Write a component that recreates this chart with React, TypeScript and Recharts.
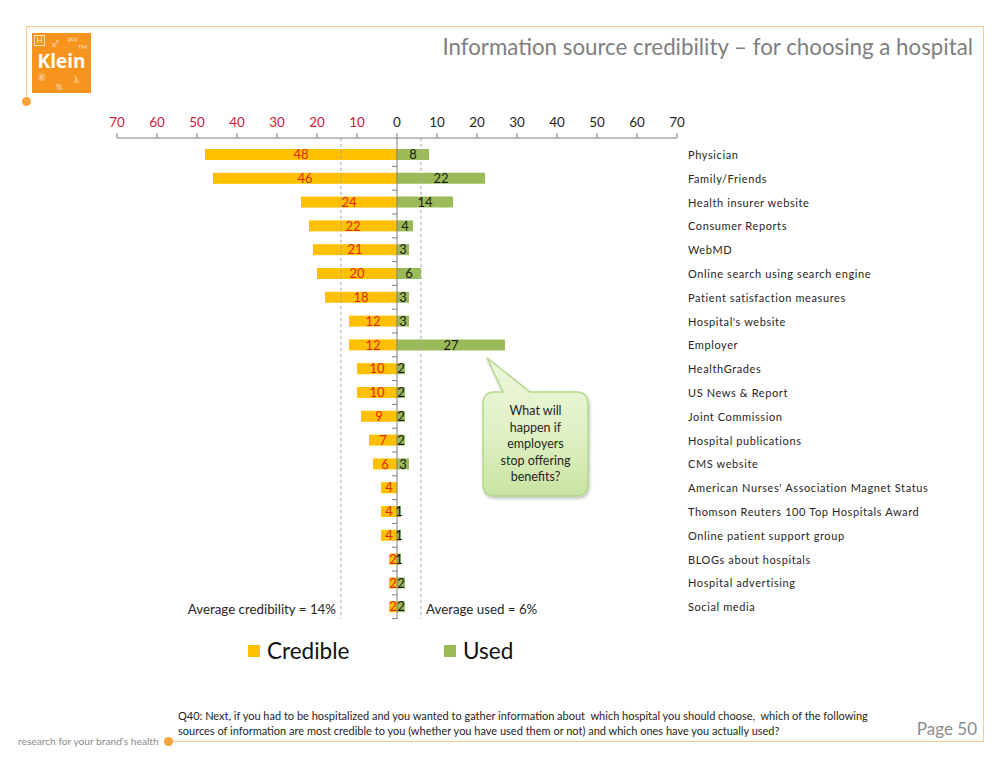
import React from 'react';
import { BarChart, Bar, XAxis, YAxis, ReferenceLine, LabelList } from 'recharts';

const CATEGORIES = [
  'Physician',
  'Family/Friends',
  'Health insurer website',
  'Consumer Reports',
  'WebMD',
  'Online search using search engine',
  'Patient satisfaction measures',
  "Hospital's website",
  'Employer',
  'HealthGrades',
  'US News & Report',
  'Joint Commission',
  'Hospital publications',
  'CMS website',
  "American Nurses' Association Magnet Status",
  'Thomson Reuters 100 Top Hospitals Award',
  'Online patient support group',
  'BLOGs about hospitals',
  'Hospital advertising',
  'Social media',
];
const CREDIBLE = [48, 46, 24, 22, 21, 20, 18, 12, 12, 10, 10, 9, 7, 6, 4, 4, 4, 2, 2, 2];
const USED = [8, 22, 14, 4, 3, 6, 3, 3, 27, 2, 2, 2, 2, 3, 0, 1, 1, 1, 2, 2];
const X_TICKS = [-70, -60, -50, -40, -30, -20, -10, 0, 10, 20, 30, 40, 50, 60, 70];
const AVG_CREDIBLE = 14;
const AVG_USED = 6;
const SERIES = [
  { key: 'credible', name: 'Credible', color: '#FFC000', legendX: 248 },
  { key: 'used', name: 'Used', color: '#9BBB59', legendX: 444 },
];
const CALLOUT_LINES = ['What will', 'happen if', 'employers', 'stop offering', 'benefits?'];
const QUESTION_LINES = [
  'Q40: Next, if you had to be hospitalized and you wanted to gather information about  which hospital you should choose,  which of the following',
  'sources of information are most credible to you (whether you have used them or not) and which ones have you actually used?',
];

const data = CATEGORIES.map((name, i) => ({
  name,
  credible: -CREDIBLE[i],
  used: USED[i],
  credibleLabel: CREDIBLE[i],
  usedLabel: USED[i],
}));

const FONT = 'Lato, "Open Sans", sans-serif';
const ORANGE = '#F7941E';
const FRAME = '#F9CB8F';

// plot geometry (used for the small tick marks on the zero axis)
const PLOT_TOP = 138;
const PLOT_BOTTOM = 619;
const BAND_PAD = 5;
const ROW = (PLOT_BOTTOM - PLOT_TOP - BAND_PAD) / CATEGORIES.length;

const TopTick = ({ x, y, payload }: any) => (
  <text
    x={x}
    y={y}
    textAnchor="middle"
    fontSize={13.5}
    fontFamily={FONT}
    fill={payload.value < 0 ? '#D0213A' : '#262626'}
  >
    {Math.abs(payload.value)}
  </text>
);

const CategoryTick = ({ x, y, payload }: any) => (
  <text x={x} y={y} dy={4} fontSize={11} letterSpacing={0.6} fontFamily={FONT} fill="#262626" textAnchor="start">
    {payload.value}
  </text>
);

const CredibleShape = (props: any) => {
  const { x, y, width, height, fill } = props;
  const left = Math.min(x, x + width);
  const w = Math.abs(width);
  const x0 = left + w;
  const boundary = y + height / 2 + ROW / 2;
  return (
    <g>
      <rect x={left} y={y} width={w} height={height} fill={fill} />
      <line x1={x0 - 5} x2={x0} y1={boundary} y2={boundary} stroke="#7f7f7f" strokeWidth={1} />
    </g>
  );
};

const abs = (v: any) => (Number(v) === 0 ? '' : Math.abs(Number(v)));

function Logo() {
  const sym = (text: string, left: number, top: number, size: number) => (
    <div style={{ position: 'absolute', left, top, fontSize: size, color: 'rgba(255,255,255,0.75)', lineHeight: 1 }}>
      {text}
    </div>
  );
  return (
    <div style={{ position: 'absolute', left: 32, top: 33, width: 59, height: 60, background: ORANGE }}>
      <div style={{ position: 'absolute', left: 2, top: 2, width: 9, height: 9, border: '1px solid rgba(255,255,255,0.75)', fontSize: 8, color: 'rgba(255,255,255,0.8)', textAlign: 'center', lineHeight: '9px' }}>H</div>
      {sym('x²', 20, 7, 8)}
      {sym('p(x)', 36, 3, 6)}
      {sym('TM', 46, 11, 6)}
      {sym('®', 6, 40, 9)}
      {sym('%', 24, 50, 8)}
      {sym('λ', 42, 42, 9)}
      <div style={{ position: 'absolute', left: 0, top: 19, width: 59, textAlign: 'center', color: '#fff', fontWeight: 700, fontSize: 19, fontFamily: '"Open Sans", sans-serif', lineHeight: 1 }}>
        Klein
      </div>
    </div>
  );
}

function Callout() {
  const x = 483, y = 392, w = 105, h = 104, r = 12;
  const path = `M ${x + r} ${y} L 503 ${y} L 487 358 L 530 ${y} L ${x + w - r} ${y} Q ${x + w} ${y} ${x + w} ${y + r} L ${x + w} ${y + h - r} Q ${x + w} ${y + h} ${x + w - r} ${y + h} L ${x + r} ${y + h} Q ${x} ${y + h} ${x} ${y + h - r} L ${x} ${y + r} Q ${x} ${y} ${x + r} ${y} Z`;
  return (
    <svg width={1008} height={768} style={{ position: 'absolute', left: 0, top: 0, pointerEvents: 'none' }}>
      <defs>
        <linearGradient id="calloutGrad" x1="0" y1="0" x2="0" y2="1">
          <stop offset="0%" stopColor="#EEF7DE" />
          <stop offset="55%" stopColor="#E0F0C4" />
          <stop offset="100%" stopColor="#C8E4A2" />
        </linearGradient>
        <filter id="calloutShadow" x="-20%" y="-20%" width="140%" height="140%">
          <feDropShadow dx="1" dy="2" stdDeviation="1.5" floodColor="#000" floodOpacity="0.25" />
        </filter>
      </defs>
      <path d={path} fill="url(#calloutGrad)" stroke="#B3D78C" strokeWidth={1.5} filter="url(#calloutShadow)" />
      {CALLOUT_LINES.map((line, i) => (
        <text key={line} x={x + w / 2} y={415 + i * 16.5} textAnchor="middle" fontSize={12.5} fontFamily={FONT} fill="#262626">
          {line}
        </text>
      ))}
    </svg>
  );
}

export default function App() {
  return (
    <div style={{ position: 'absolute', left: 0, top: 0, width: 1008, height: 768, overflow: 'hidden', background: '#fff', fontFamily: FONT }}>
      {/* frame */}
      <div style={{ position: 'absolute', left: 26, top: 26, width: 958, borderTop: `1.5px solid ${FRAME}` }} />
      <div style={{ position: 'absolute', left: 983, top: 26, height: 716, borderLeft: `1.5px solid ${FRAME}` }} />
      <div style={{ position: 'absolute', left: 168, top: 741, width: 816, borderTop: `1.5px solid ${FRAME}` }} />
      <div style={{ position: 'absolute', left: 26, top: 26, height: 75, borderLeft: `1.5px solid ${FRAME}` }} />
      <div style={{ position: 'absolute', left: 22, top: 97, width: 9, height: 9, borderRadius: '50%', background: '#F7A53A' }} />
      <div style={{ position: 'absolute', left: 164, top: 737, width: 9, height: 9, borderRadius: '50%', background: '#F7A53A' }} />

      <Logo />

      <div style={{ position: 'absolute', right: 35, top: 33, fontSize: 22.3, color: '#7F7F7F', whiteSpace: 'nowrap' }}>
        Information source credibility – for choosing a hospital
      </div>

      <BarChart
        width={1008}
        height={768}
        data={data}
        layout="vertical"
        stackOffset="sign"
        barSize={11}
        margin={{ top: 108, right: 71, bottom: 149, left: 117 }}
        style={{ position: 'absolute', left: 0, top: 0 }}
      >
        <XAxis
          type="number"
          orientation="top"
          domain={[-70, 70]}
          ticks={X_TICKS}
          interval={0}
          height={30}
          tickSize={5}
          tickMargin={6}
          tick={<TopTick />}
          axisLine={{ stroke: '#7f7f7f' }}
          tickLine={{ stroke: '#7f7f7f' }}
        />
        <YAxis
          type="category"
          dataKey="name"
          orientation="right"
          width={260}
          interval={0}
          tickSize={0}
          tickMargin={11}
          tick={<CategoryTick />}
          axisLine={false}
          tickLine={false}
          padding={{ top: BAND_PAD, bottom: 0 }}
        />
        <Bar dataKey="credible" name={SERIES[0].name} stackId="a" fill={SERIES[0].color} shape={<CredibleShape />} isAnimationActive={false}>
          <LabelList dataKey="credibleLabel" position="center" formatter={abs} fill="#E3281E" fontSize={13} fontFamily={FONT} />
        </Bar>
        <Bar dataKey="used" name={SERIES[1].name} stackId="a" fill={SERIES[1].color} isAnimationActive={false}>
          <LabelList dataKey="usedLabel" position="center" formatter={abs} fill="#1a1a1a" fontSize={13} fontFamily={FONT} />
        </Bar>
        <ReferenceLine x={0} stroke="#7f7f7f" strokeWidth={1} />
        <ReferenceLine
          x={-AVG_CREDIBLE}
          stroke="#a6a6a6"
          strokeDasharray="3 3"
          label={{ value: `Average credibility = ${AVG_CREDIBLE}%`, position: 'insideBottomRight', offset: 5, fill: '#262626', fontSize: 13.3, fontFamily: FONT }}
        />
        <ReferenceLine
          x={AVG_USED}
          stroke="#a6a6a6"
          strokeDasharray="3 3"
          label={{ value: `Average used = ${AVG_USED}%`, position: 'insideBottomLeft', offset: 5, fill: '#262626', fontSize: 13.3, fontFamily: FONT }}
        />
      </BarChart>

      <Callout />

      {/* legend */}
      {SERIES.map((s) => (
        <div key={s.key} style={{ position: 'absolute', left: s.legendX, top: 637, display: 'flex', alignItems: 'center', gap: 7 }}>
          <div style={{ width: 12, height: 12, background: s.color }} />
          <span style={{ fontSize: 22.5, color: '#111' }}>{s.name}</span>
        </div>
      ))}

      <div style={{ position: 'absolute', left: 178, top: 708, fontSize: 11, lineHeight: '15px', color: '#262626', whiteSpace: 'pre' }}>
        {QUESTION_LINES.map((l) => (
          <div key={l}>{l}</div>
        ))}
      </div>
      <div style={{ position: 'absolute', right: 31, top: 718, fontSize: 17, color: '#8c8c8c' }}>Page 50</div>
      <div style={{ position: 'absolute', left: 18, top: 735, fontSize: 10.2, color: '#8c8c8c', whiteSpace: 'nowrap' }}>
        research for your brand’s health
      </div>
    </div>
  );
}
